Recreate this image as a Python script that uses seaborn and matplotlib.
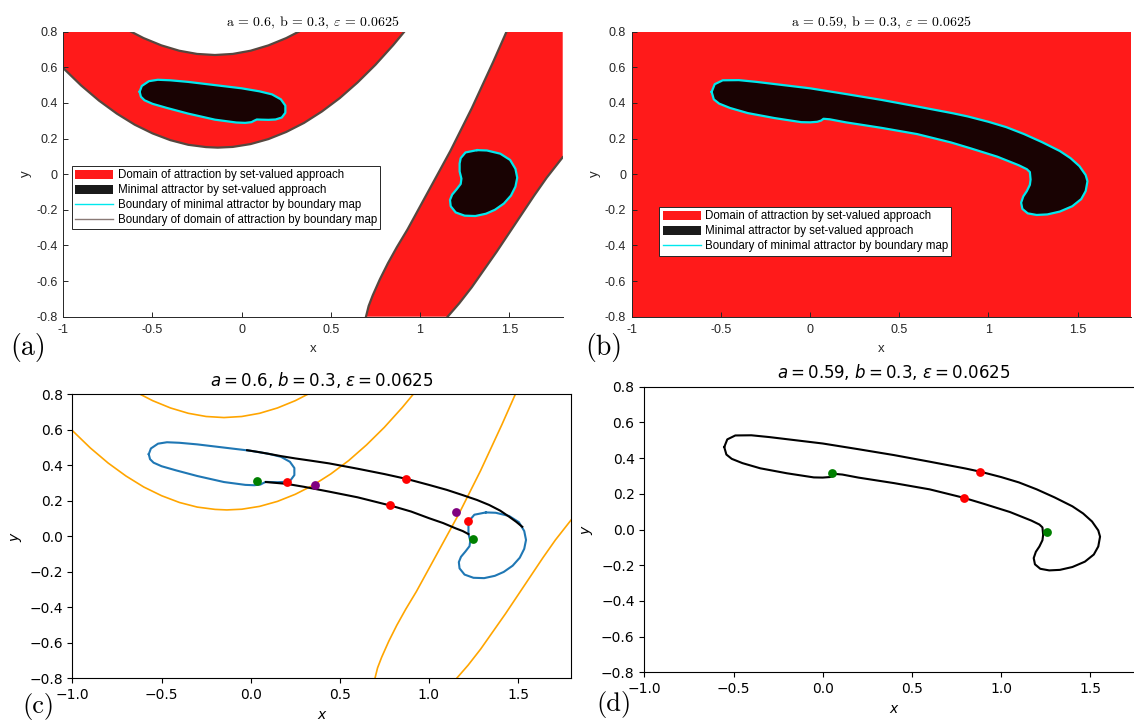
import matplotlib
matplotlib.use('Agg')
import matplotlib.pyplot as plt
import seaborn as sns
from matplotlib.patches import Patch
from matplotlib.lines import Line2D

# ---------------- data ----------------
x_ticks = [-1, -0.5, 0, 0.5, 1, 1.5]
y_ticks = [-0.8, -0.6, -0.4, -0.2, 0, 0.2, 0.4, 0.6, 0.8]
ml_xtick_labels = ['-1', '-0.5', '0', '0.5', '1', '1.5']
ml_ytick_labels = ['-0.8', '-0.6', '-0.4', '-0.2', '0', '0.2', '0.4', '0.6', '0.8']

# boundary of domain of attraction (a = 0.6)
lower_parab_x = [-1.0, -0.9, -0.8, -0.7, -0.6, -0.5, -0.4, -0.3, -0.2, -0.134, -0.05,
                 0.05, 0.15, 0.25, 0.35, 0.45, 0.55, 0.65, 0.75, 0.85, 0.912]
lower_parab_y = [0.595, 0.498, 0.413, 0.340, 0.278, 0.229, 0.191, 0.165, 0.152, 0.149, 0.153,
                 0.169, 0.197, 0.237, 0.288, 0.352, 0.427, 0.515, 0.614, 0.725, 0.800]
inner_parab_x = [-0.62, -0.55, -0.45, -0.35, -0.25, -0.15, -0.05, 0.05, 0.15, 0.25, 0.32]
inner_parab_y = [0.800, 0.764, 0.723, 0.693, 0.675, 0.669, 0.675, 0.693, 0.723, 0.764, 0.800]
band_left_x = [0.697, 0.712, 0.735, 0.775, 0.82, 0.87, 0.93, 0.99, 1.05, 1.11, 1.17,
               1.23, 1.29, 1.35, 1.41, 1.485]
band_left_y = [-0.80, -0.74, -0.68, -0.59, -0.50, -0.41, -0.31, -0.20, -0.09, 0.02, 0.13,
               0.25, 0.37, 0.50, 0.63, 0.80]
band_right_x = [1.155, 1.22, 1.29, 1.36, 1.43, 1.50, 1.57, 1.64, 1.71, 1.80]
band_right_y = [-0.80, -0.725, -0.635, -0.535, -0.435, -0.33, -0.225, -0.12, -0.02, 0.095]

# minimal attractor (a = 0.6): two pieces
blob1_x = [-0.572, -0.56, -0.52, -0.47, -0.40, -0.30, -0.15, 0.0, 0.10, 0.17, 0.22, 0.245,
           0.245, 0.225, 0.19, 0.15, 0.11, 0.085, 0.070, 0.055, 0.02, -0.03, -0.15, -0.30,
           -0.42, -0.50, -0.545, -0.565, -0.572]
blob1_y = [0.463, 0.495, 0.522, 0.530, 0.527, 0.518, 0.500, 0.482, 0.465, 0.448, 0.420, 0.385,
           0.345, 0.318, 0.307, 0.305, 0.306, 0.307, 0.300, 0.292, 0.288, 0.290, 0.306, 0.340,
           0.372, 0.395, 0.415, 0.435, 0.463]
blob2_x = [1.32, 1.375, 1.45, 1.505, 1.535, 1.545, 1.535, 1.51, 1.47, 1.42, 1.37, 1.31, 1.25,
           1.20, 1.172, 1.168, 1.18, 1.205, 1.228, 1.232, 1.222, 1.222, 1.228, 1.255, 1.32]
blob2_y = [0.135, 0.133, 0.115, 0.080, 0.030, -0.020, -0.070, -0.120, -0.165, -0.200, -0.222,
           -0.235, -0.233, -0.215, -0.180, -0.145, -0.115, -0.085, -0.055, -0.025, 0.015,
           0.060, 0.090, 0.122, 0.135]

# minimal attractor (a = 0.59)
att59_x = [-0.552, -0.535, -0.49, -0.40, -0.30, -0.15, 0.0, 0.2, 0.4, 0.6, 0.8, 0.884, 1.0,
           1.1, 1.2, 1.3, 1.4, 1.46, 1.51, 1.545, 1.555, 1.545, 1.52, 1.47, 1.40, 1.33, 1.27,
           1.22, 1.19, 1.183, 1.195, 1.215, 1.232, 1.236, 1.232, 1.215, 1.17, 1.05, 0.9, 0.79,
           0.6, 0.4, 0.2, 0.11, 0.075, 0.062, 0.04, 0.0, -0.05, -0.2, -0.35, -0.45, -0.51,
           -0.54, -0.552]
att59_y = [0.462, 0.505, 0.527, 0.528, 0.518, 0.500, 0.482, 0.450, 0.417, 0.380, 0.342, 0.324,
           0.294, 0.264, 0.225, 0.180, 0.130, 0.090, 0.045, -0.005, -0.040, -0.095, -0.140,
           -0.180, -0.210, -0.226, -0.229, -0.220, -0.195, -0.160, -0.125, -0.095, -0.060,
           -0.030, 0.012, 0.028, 0.050, 0.098, 0.145, 0.178, 0.225, 0.260, 0.291, 0.308, 0.311,
           0.301, 0.294, 0.291, 0.292, 0.315, 0.343, 0.372, 0.396, 0.420, 0.462]

# panel (c) black arcs
arc_up_x = [-0.02, 0.05, 0.1, 0.17, 0.25, 0.34, 0.44, 0.6, 0.75, 0.877, 1.0, 1.1, 1.188,
            1.27, 1.338, 1.4, 1.45, 1.49, 1.524]
arc_up_y = [0.485, 0.474, 0.465, 0.452, 0.439, 0.426, 0.411, 0.381, 0.351, 0.323, 0.290,
            0.262, 0.233, 0.205, 0.177, 0.145, 0.111, 0.082, 0.054]
arc_lo_x = [0.085, 0.2, 0.3, 0.44, 0.6, 0.787, 0.9, 1.002, 1.08, 1.151, 1.19, 1.222]
arc_lo_y = [0.306, 0.296, 0.279, 0.252, 0.220, 0.173, 0.140, 0.102, 0.075, 0.045, 0.030, 0.013]

# marked points
c_green_x, c_green_y = [0.037, 1.249], [0.313, -0.015]
c_red_x, c_red_y = [0.202, 0.872, 0.783, 1.221], [0.309, 0.324, 0.174, 0.084]
c_purple_x, c_purple_y = [0.361, 1.154], [0.292, 0.139]
d_green_x, d_green_y = [0.054, 1.258], [0.315, -0.012]
d_red_x, d_red_y = [0.884, 0.793], [0.324, 0.179]

title_a = r'a = 0.6, b = 0.3, $\varepsilon$ = 0.0625'
title_b = r'a = 0.59, b = 0.3, $\varepsilon$ = 0.0625'
title_c = r'$a = 0.6$, $b = 0.3$, $\epsilon = 0.0625$'
title_d = r'$a = 0.59$, $b = 0.3$, $\epsilon = 0.0625$'
legend_labels = ['Domain of attraction by set-valued approach',
                 'Minimal attractor by set-valued approach',
                 'Boundary of minimal attractor by boundary map',
                 'Boundary of domain of attraction by boundary map']

# ---------------- style ----------------
RED = '#ff1a1a'
DARK = '#190303'
CYAN = '#00e8ee'
GRAY = '#56473f'
ML = '#262626'

fig = plt.figure(figsize=(11.34, 7.23), dpi=100)
ax_a = fig.add_axes([0.05582, 0.5620, 0.4404, 0.3942])
ax_b = fig.add_axes([0.5571, 0.5620, 0.4404, 0.3942])
ax_c = fig.add_axes([0.06393, 0.06155, 0.4400, 0.3931])
ax_d = fig.add_axes([0.5682, 0.0701, 0.4404, 0.3950])


def line(ax, xs, ys, color, lw, z=2):
    sns.lineplot(x=xs, y=ys, sort=False, estimator=None, color=color, lw=lw, ax=ax,
                 legend=False, zorder=z)


def matlab_style(ax, title):
    ax.set_xlim(-1, 1.8)
    ax.set_ylim(-0.8, 0.8)
    for s in ['top', 'right']:
        ax.spines[s].set_visible(False)
    for s in ['left', 'bottom']:
        ax.spines[s].set_color(ML)
        ax.spines[s].set_linewidth(0.7)
        ax.spines[s].set_zorder(5)
    ax.set_xticks(x_ticks, ml_xtick_labels)
    ax.set_yticks(y_ticks, ml_ytick_labels)
    ax.tick_params(direction='in', length=3.5, width=0.7, color=ML, labelsize=9,
                   labelcolor=ML)
    ax.tick_params(axis='x', pad=5)
    ax.tick_params(axis='y', pad=4)
    for lab in ax.get_xticklabels() + ax.get_yticklabels():
        lab.set_fontfamily('Liberation Sans')
    ax.set_xlabel('x', fontsize=9.5, family='Liberation Sans', color=ML, labelpad=5)
    ax.set_ylabel('y', fontsize=9.5, family='Liberation Sans', color=ML, labelpad=3)
    ax.set_title(title, fontsize=10, family='cmr10', math_fontfamily='cm', pad=4)


def mpl_style(ax, title):
    ax.set_xlim(-1, 1.8)
    ax.set_ylim(-0.8, 0.8)
    ax.set_xticks([-1.0, -0.5, 0.0, 0.5, 1.0, 1.5])
    ax.set_yticks(y_ticks)
    ax.tick_params(labelsize=10)
    ax.set_xlabel('$x$', fontsize=10)
    ax.set_ylabel('$y$', fontsize=10)
    ax.set_title(title, fontsize=12)


LEG_KW = dict(loc='upper left', borderaxespad=0, fancybox=False, framealpha=1, edgecolor=ML,
              prop={'family': 'Liberation Sans', 'size': 8.3}, handlelength=3.3,
              handleheight=0.85, handletextpad=0.35, labelspacing=0.25, borderpad=0.3)

# ---- panel (a) ----
up_poly_x = [-1.0] + lower_parab_x + inner_parab_x[::-1]
up_poly_y = [0.8] + lower_parab_y + inner_parab_y[::-1]
ax_a.fill(up_poly_x, up_poly_y, color=RED, lw=0, zorder=1)
band_poly_x = band_left_x + [1.8] + band_right_x[::-1]
band_poly_y = band_left_y + [0.8] + band_right_y[::-1]
ax_a.fill(band_poly_x, band_poly_y, color=RED, lw=0, zorder=1)
for bx, by in [(lower_parab_x, lower_parab_y), (inner_parab_x, inner_parab_y),
               (band_left_x, band_left_y), (band_right_x, band_right_y)]:
    line(ax_a, bx, by, GRAY, 1.6)
for bx, by in [(blob1_x, blob1_y), (blob2_x, blob2_y)]:
    ax_a.fill(bx, by, color=DARK, lw=0, zorder=2)
    line(ax_a, bx, by, CYAN, 1.6, z=3)
matlab_style(ax_a, title_a)

handles_a = [Patch(facecolor=RED, edgecolor='none'),
             Patch(facecolor='#1a1a1a', edgecolor='none'),
             Line2D([], [], color=CYAN, lw=1.0),
             Line2D([], [], color='#8a7a76', lw=1.0)]
leg = ax_a.legend(handles_a, legend_labels, bbox_to_anchor=(0.0174, 0.529), **LEG_KW)
leg.get_frame().set_linewidth(0.7)

# ---- panel (b) ----
ax_b.set_facecolor(RED)
ax_b.fill(att59_x, att59_y, color=DARK, lw=0, zorder=2)
line(ax_b, att59_x, att59_y, CYAN, 1.6, z=3)
matlab_style(ax_b, title_b)
leg = ax_b.legend(handles_a[:3], legend_labels[:3], bbox_to_anchor=(0.0547, 0.385), **LEG_KW)
leg.get_frame().set_linewidth(0.7)

# ---- panel (c) ----
for bx, by in [(lower_parab_x, lower_parab_y), (inner_parab_x, inner_parab_y),
               (band_left_x, band_left_y), (band_right_x, band_right_y)]:
    line(ax_c, bx, by, 'orange', 1.2)
for bx, by in [(blob1_x, blob1_y), (blob2_x, blob2_y)]:
    line(ax_c, bx, by, '#1f77b4', 1.5)
line(ax_c, arc_up_x, arc_up_y, 'black', 1.5, z=3)
line(ax_c, arc_lo_x, arc_lo_y, 'black', 1.5, z=3)
for px, py, col in [(c_green_x, c_green_y, 'green'), (c_red_x, c_red_y, 'red'),
                    (c_purple_x, c_purple_y, 'purple')]:
    sns.scatterplot(x=px, y=py, color=col, s=40, linewidth=0, ax=ax_c, zorder=5, legend=False)
mpl_style(ax_c, title_c)

# ---- panel (d) ----
line(ax_d, att59_x, att59_y, 'black', 1.5)
for px, py, col in [(d_green_x, d_green_y, 'green'), (d_red_x, d_red_y, 'red')]:
    sns.scatterplot(x=px, y=py, color=col, s=40, linewidth=0, ax=ax_d, zorder=5, legend=False)
mpl_style(ax_d, title_d)

# ---- panel letters ----
for lbl, px, py, fs in [('(a)', 28, 347, 20), ('(b)', 604, 347, 20),
                        ('(c)', 38, 706, 19), ('(d)', 614, 705, 19)]:
    fig.text(px / 1134, 1 - py / 723, lbl, family='cmr10', fontsize=fs,
             ha='center', va='center')

fig.savefig('out.png', dpi=100)
